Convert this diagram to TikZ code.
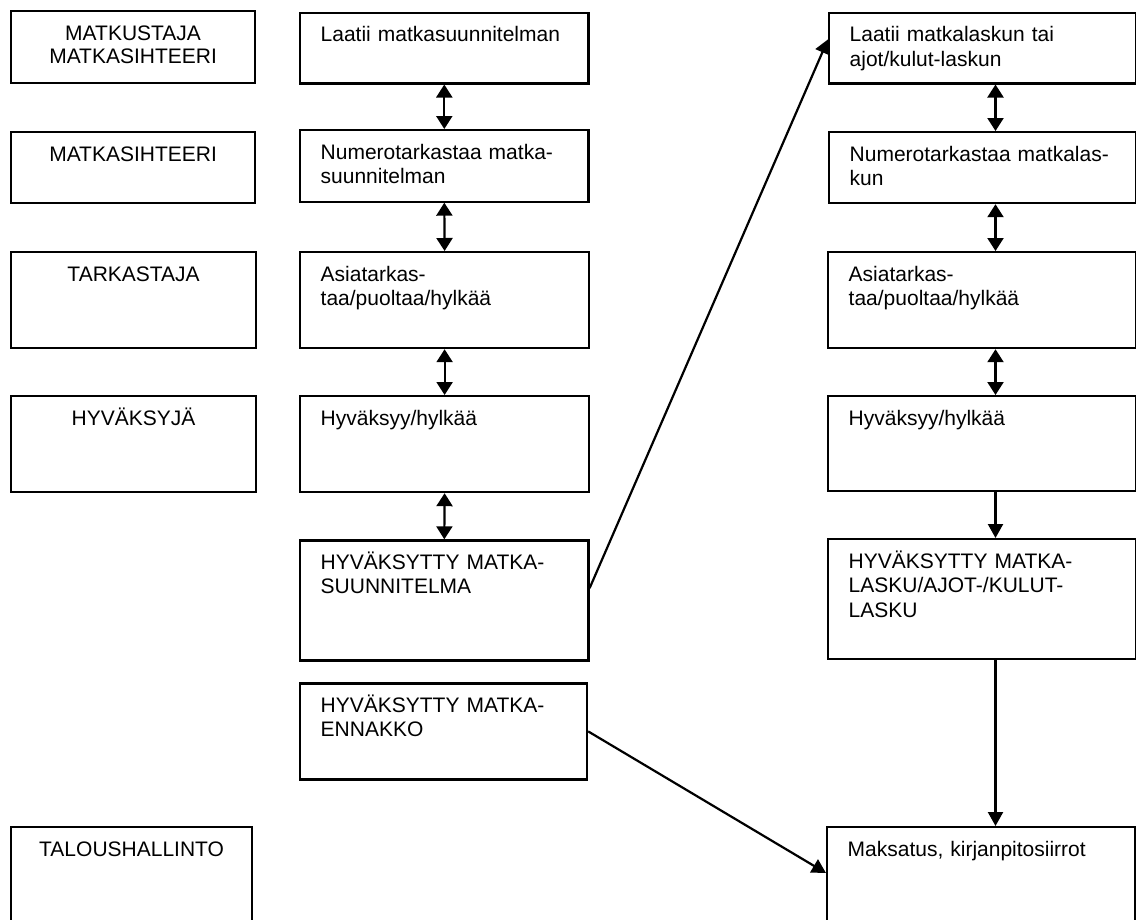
\documentclass[tikz,border=0pt]{standalone}
\usepackage{fontspec}
\setmainfont{Liberation Sans}
\usepackage{tikz}
\usetikzlibrary{calc, arrows.meta}

\begin{document}
\begin{tikzpicture}[x=1pt, y=-1pt,
    laatikko/.style={draw, line width=2.2pt, inner sep=0pt, anchor=north west},
    teksti/.style={font=\fontsize{21}{24.5}\selectfont, inner sep=0pt, anchor=base west, align=left, text width=280pt},
    rooli/.style={font=\fontsize{21}{23.5}\selectfont, inner sep=0pt, anchor=base, align=center, text width=240pt},
    nuoli/.style={line width=2.2pt, -{Triangle[width=15pt,length=14pt]}},
    kaksinuoli/.style={line width=2.2pt, {Triangle[width=16pt,length=13pt]}-{Triangle[width=16pt,length=13pt]}}]

    % --- 1. Kuvan rajat ---
    \useasboundingbox (0,0) rectangle (1136,919);
    \def\dx{21.5}
    \def\dy{30}

    % --- 2. Roolit vasemmalla ---
    \node[laatikko, minimum width=244pt, minimum height=72pt] (l1) at (10,10) {};
    \node[laatikko, minimum width=244pt, minimum height=70.5pt] (l2) at (10,131) {};
    \node[laatikko, minimum width=245pt, minimum height=96pt] (l3) at (10,251) {};
    \node[laatikko, minimum width=245pt, minimum height=96pt] (l4) at (10,395) {};
    \node[laatikko, minimum width=241pt, minimum height=100pt] (l5) at (10,826) {};
    \node[rooli] (l1t) at ($(l1.north)+(0,\dy)$) {MATKUSTAJA\\MATKASIHTEERI};
    \node[rooli] (l2t) at ($(l2.north)+(0,\dy)$) {MATKASIHTEERI};
    \node[rooli] (l3t) at ($(l3.north)+(0,\dy)$) {TARKASTAJA};
    \node[rooli] (l4t) at ($(l4.north)+(0,\dy)$) {HYVÄKSYJÄ};
    \node[rooli] (l5t) at ($(l5.north)+(0,\dy)$) {TALOUSHALLINTO};

    % --- 3. Matkasuunnitelma (keskimmäinen sarake) ---
    \node[laatikko, minimum width=288.4pt, minimum height=70.6pt] (m1) at (299,11.7) {};
    \node[laatikko, minimum width=288.4pt, minimum height=71.5pt] (m2) at (299,129) {};
    \node[laatikko, minimum width=289pt, minimum height=96pt] (m3) at (299,251) {};
    \node[laatikko, minimum width=289pt, minimum height=96pt] (m4) at (299,395) {};
    \node[laatikko, minimum width=288.4pt, minimum height=120pt] (m5) at (299,539.3) {};
    \node[laatikko, minimum width=287pt, minimum height=96pt] (m6) at (299,682.3) {};
    \node[teksti] (m1t) at ($(m1.north west)+(\dx,\dy)$) {Laatii matkasuunnitelman};
    \node[teksti] (m2t) at ($(m2.north west)+(\dx,\dy)$) {Numerotarkastaa matka-\\suunnitelman};
    \node[teksti] (m3t) at ($(m3.north west)+(\dx,\dy)$) {Asiatarkas-\\taa/puoltaa/hylkää};
    \node[teksti] (m4t) at ($(m4.north west)+(\dx,\dy)$) {Hyväksyy/hylkää};
    \node[teksti] (m5t) at ($(m5.north west)+(\dx,\dy)$) {HYVÄKSYTTY MATKA-\\SUUNNITELMA};
    \node[teksti] (m6t) at ($(m6.north west)+(\dx,\dy)$) {HYVÄKSYTTY MATKA-\\ENNAKKO};

    % --- 4. Matkalasku (oikea sarake) ---
    \node[laatikko, minimum width=307pt, minimum height=70.6pt] (r1) at (828,11.7) {};
    \node[laatikko, minimum width=307pt, minimum height=71pt] (r2) at (828,131) {};
    \node[laatikko, minimum width=308pt, minimum height=96pt] (r3) at (827,251) {};
    \node[laatikko, minimum width=308pt, minimum height=95pt] (r4) at (827,395) {};
    \node[laatikko, minimum width=308pt, minimum height=120pt] (r5) at (827,538) {};
    \node[laatikko, minimum width=308pt, minimum height=100pt] (r6) at (826,826) {};
    \node[teksti] (r1t) at ($(r1.north west)+(\dx,\dy)$) {Laatii matkalaskun tai\\ajot/kulut-laskun};
    \node[teksti] (r2t) at ($(r2.north west)+(\dx,\dy)$) {Numerotarkastaa matkalas-\\kun};
    \node[teksti] (r3t) at ($(r3.north west)+(\dx,\dy)$) {Asiatarkas-\\taa/puoltaa/hylkää};
    \node[teksti] (r4t) at ($(r4.north west)+(\dx,\dy)$) {Hyväksyy/hylkää};
    \node[teksti] (r5t) at ($(r5.north west)+(\dx,\dy)$) {HYVÄKSYTTY MATKA-\\LASKU/AJOT-/KULUT-\\LASKU};
    \node[teksti] (r6t) at ($(r6.north west)+(\dx,\dy)$) {Maksatus, kirjanpitosiirrot};

    % --- 5. Nuolet keskellä ---
    \draw[kaksinuoli] (m1.south) -- (m2.north);
    \draw[kaksinuoli] (m2.south) -- (m3.north);
    \draw[kaksinuoli] (m3.south) -- (m4.north);
    \draw[kaksinuoli] (m4.south) -- (m5.north);

    % --- 6. Nuolet oikealla (x = 995) ---
    \draw[kaksinuoli] ($(r1.south west)+(167.5,0)$) -- ($(r2.north west)+(167.5,0)$);
    \draw[kaksinuoli] ($(r2.south west)+(167.5,0)$) -- ($(r3.north west)+(168.5,0)$);
    \draw[kaksinuoli] ($(r3.south west)+(168.5,0)$) -- ($(r4.north west)+(168.5,0)$);
    \draw[nuoli] ($(r4.south west)+(168.5,0)$) -- ($(r5.north west)+(168.5,0)$);
    \draw[nuoli] ($(r5.south west)+(168.5,0)$) -- ($(r6.north west)+(169.5,0)$);

    % --- 7. Vinot nuolet ---
    \draw[nuoli] ($(m5.north east)!0.4!(m5.south east)$) -- ($(r1.north west)!0.38!(r1.south west)$);
    \draw[nuoli] ($(m6.north east)!0.5!(m6.south east)$) -- ($(r6.north west)+(0,47)$);

\end{tikzpicture}
\end{document}
